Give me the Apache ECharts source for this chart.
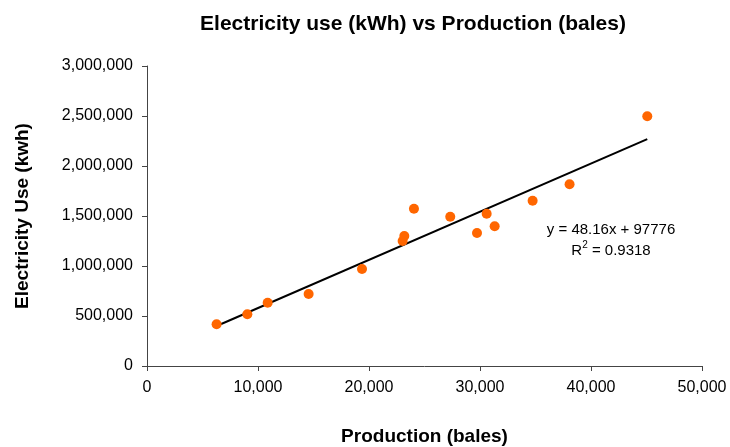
<!DOCTYPE html>
<html><head><meta charset="utf-8">
<script src="https://cdn.jsdelivr.net/npm/echarts@6/dist/echarts.min.js"></script>
<style>html,body{margin:0;padding:0;background:#fff}#c{width:730px;height:447px}</style>
</head><body><div id="c"></div>
<script>
const production = [6270, 9040, 10870, 14560, 19370, 23030, 23180, 24050, 27320, 29730, 30600, 31320, 34740, 38070, 45070];
const electricity = [417000, 517000, 633000, 720000, 970000, 1250000, 1300000, 1573000, 1493000, 1330000, 1523000, 1397000, 1653000, 1817000, 2497000];
const trendSlope = [48.16];
const trendIntercept = [97776];
const rSquared = ['0.9318'];

const pts = production.map((x, i) => [x, electricity[i]]);
const xmin = Math.min(...production), xmax = Math.max(...production);
const trend = [xmin, xmax].map(x => [x, trendSlope[0] * x + trendIntercept[0]]);
const fmt = v => v.toLocaleString('en-US');
const font = 'Liberation Sans, Arial, sans-serif';

const chart = echarts.init(document.getElementById('c'));
chart.setOption({
  animation: false,
  textStyle: { fontFamily: font },
  title: {
    text: 'Electricity use (kWh) vs Production (bales)',
    left: 408, top: 9, textAlign: 'center',
    textStyle: { fontFamily: font, fontSize: 21, fontWeight: 'bold', color: '#000' }
  },
  grid: { left: 147, right: 28, top: 66, bottom: 81, containLabel: false, outerBoundsMode: 'none' },
  xAxis: {
    type: 'value', min: 0, max: 50000, interval: 10000,
    name: 'Production (bales)', nameLocation: 'middle', nameGap: 61,
    nameTextStyle: { fontFamily: font, fontSize: 19, fontWeight: 'bold', color: '#000' },
    axisLine: { show: true, lineStyle: { color: '#444' } },
    axisTick: { show: true, length: 5, lineStyle: { color: '#444' } },
    axisLabel: { formatter: fmt, color: '#000', fontSize: 16, margin: 14 },
    splitLine: { show: false }
  },
  yAxis: {
    type: 'value', min: 0, max: 3000000, interval: 500000,
    name: 'Electricity Use (kwh)', nameLocation: 'middle', nameGap: 115,
    nameTextStyle: { fontFamily: font, fontSize: 19, fontWeight: 'bold', color: '#000' },
    axisLine: { show: true, lineStyle: { color: '#444' } },
    axisTick: { show: true, length: 5, lineStyle: { color: '#444' } },
    axisLabel: { formatter: fmt, color: '#000', fontSize: 16, margin: 14 },
    splitLine: { show: false }
  },
  series: [
    {
      type: 'line', data: trend, symbol: 'none', silent: true,
      lineStyle: { color: '#000', width: 2 }, z: 1
    },
    {
      type: 'scatter', data: pts, symbol: 'circle', symbolSize: 10,
      itemStyle: { color: '#FF6600', opacity: 1 }, z: 2
    }
  ],
  graphic: [
    {
      type: 'text', x: 611, y: 222,
      style: {
        text: 'y = ' + trendSlope[0] + 'x + ' + trendIntercept[0],
        font: '15px ' + font, fill: '#000', align: 'center', verticalAlign: 'top'
      }
    },
    {
      type: 'text', x: 611, y: 240,
      style: {
        text: '{r|R}{s|2}{r| = ' + rSquared[0] + '}',
        align: 'center', verticalAlign: 'top',
        rich: {
          r: { fontFamily: font, fontSize: 15, color: '#000', verticalAlign: 'bottom' },
          s: { fontFamily: font, fontSize: 10, color: '#000', verticalAlign: 'top', padding: [0, 0, 8, 0] }
        }
      }
    }
  ]
});
</script></body></html>
